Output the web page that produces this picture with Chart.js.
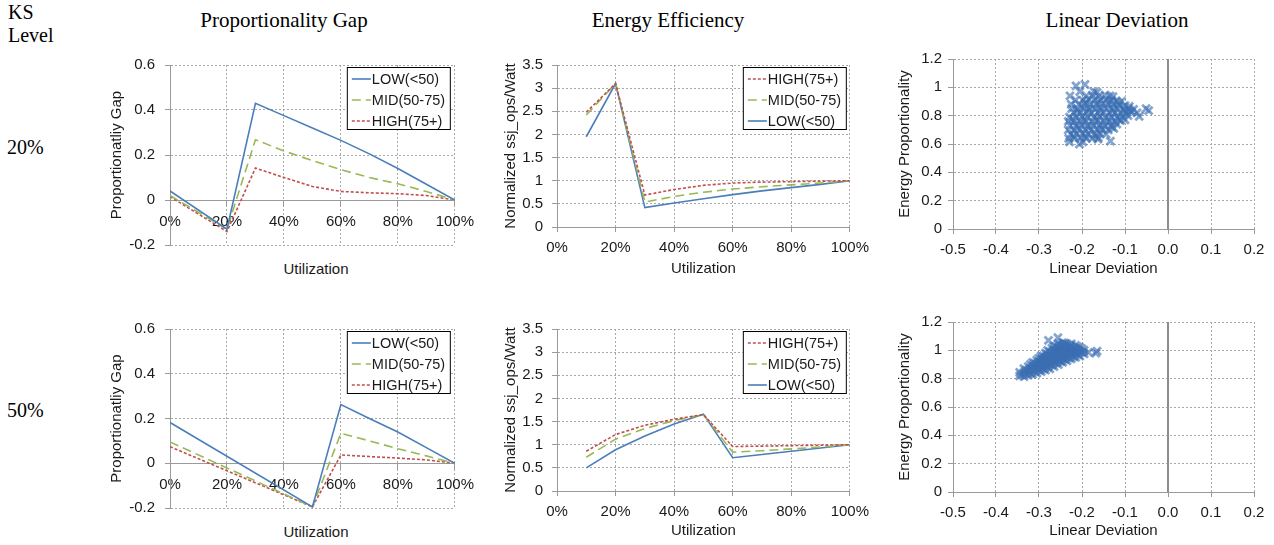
<!DOCTYPE html>
<html>
<head>
<meta charset="utf-8">
<script src="https://cdn.jsdelivr.net/npm/chart.js@4.4.0/dist/chart.umd.min.js"></script>
<style>
  html, body { margin: 0; padding: 0; background: #fff; }
  body { position: relative; width: 1274px; height: 545px; overflow: hidden; }
  canvas { position: absolute; }
  .lbl { position: absolute; font-family: "Liberation Serif", "Times New Roman", serif; font-size: 20px; line-height: 23px; color: #000; white-space: nowrap; }
  .head { text-align: center; width: 300px; font-size: 21px; }
  .axt { position: absolute; font-family: "Liberation Sans", Arial, sans-serif; font-size: 15px; line-height: 16px; color: #1a1a1a; text-align: center; width: 200px; }
</style>
</head>
<body>
<div class="lbl" style="left:8px; top:1px;">KS<br>Level</div>
<div class="lbl" style="left:7px; top:136px;">20%</div>
<div class="lbl" style="left:7px; top:399px;">50%</div>
<div class="lbl head" style="left:134px; top:9px;">Proportionality Gap</div>
<div class="lbl head" style="left:518px; top:9px;">Energy Efficiency</div>
<div class="lbl head" style="left:967px; top:9px;">Linear Deviation</div>
<div class="axt" style="left:216px; top:261px;">Utilization</div>
<div class="axt" style="left:216px; top:524px;">Utilization</div>

<canvas id="pg20"></canvas>
<canvas id="ee20"></canvas>
<canvas id="ld20"></canvas>
<canvas id="pg50"></canvas>
<canvas id="ee50"></canvas>
<canvas id="ld50"></canvas>

<script>
// ---- data ----
const pgUtil20 = [0, 20, 30, 40, 50, 60, 70, 80, 90, 100];
const pgLow20  = [0.04, -0.13, 0.43, 0.375, 0.32, 0.265, 0.205, 0.14, 0.07, 0];
const pgMid20  = [0.02, -0.13, 0.268, 0.218, 0.175, 0.135, 0.10, 0.072, 0.038, 0];
const pgHigh20 = [0.015, -0.14, 0.142, 0.10, 0.06, 0.038, 0.032, 0.028, 0.02, 0];

const pgUtil50 = [0, 50, 60, 70, 80, 90, 100];
const pgLow50  = [0.182, -0.195, 0.262, 0.20, 0.14, 0.07, 0];
const pgMid50  = [0.095, -0.195, 0.134, 0.10, 0.065, 0.033, 0];
const pgHigh50 = [0.074, -0.195, 0.037, 0.03, 0.023, 0.015, 0];

const eeUtil = [10, 20, 30, 40, 50, 60, 70, 80, 90, 100];
const eeHigh20 = [2.48, 3.1, 0.69, 0.81, 0.9, 0.95, 0.97, 0.98, 0.99, 1.0];
const eeMid20  = [2.42, 3.1, 0.54, 0.66, 0.75, 0.82, 0.87, 0.91, 0.95, 1.0];
const eeLow20  = [1.95, 3.1, 0.42, 0.52, 0.61, 0.7, 0.78, 0.85, 0.92, 1.0];

const eeHigh50 = [0.86, 1.22, 1.42, 1.55, 1.65, 0.96, 0.97, 0.98, 0.99, 1.0];
const eeMid50  = [0.73, 1.12, 1.35, 1.52, 1.65, 0.84, 0.87, 0.91, 0.95, 1.0];
const eeLow50  = [0.5, 0.89, 1.19, 1.45, 1.66, 0.72, 0.79, 0.86, 0.93, 1.0];

// linear deviation vs energy proportionality, one [x, y] per server
const ld20pts = [
  [-0.214,1.01],[-0.193,1.02],
  [-0.205,0.97],[-0.172,0.97],[-0.165,0.965],
  [-0.228,0.94],[-0.19,0.94],[-0.176,0.945],[-0.16,0.94],[-0.146,0.945],[-0.135,0.94],[-0.128,0.935],
  [-0.215,0.91],[-0.198,0.91],[-0.184,0.915],[-0.171,0.91],[-0.157,0.91],[-0.144,0.915],[-0.131,0.91],[-0.12,0.905],[-0.108,0.9],
  [-0.225,0.88],[-0.207,0.88],[-0.193,0.885],[-0.18,0.88],[-0.166,0.88],[-0.152,0.885],[-0.139,0.88],[-0.126,0.88],[-0.113,0.875],[-0.1,0.87],[-0.09,0.865],
  [-0.224,0.85],[-0.211,0.85],[-0.197,0.855],[-0.183,0.85],[-0.17,0.85],[-0.157,0.855],[-0.143,0.85],[-0.13,0.85],[-0.117,0.85],[-0.104,0.845],[-0.092,0.85],[-0.08,0.845],[-0.051,0.85],[-0.045,0.835],
  [-0.219,0.82],[-0.204,0.82],[-0.19,0.825],[-0.177,0.82],[-0.163,0.82],[-0.149,0.825],[-0.136,0.82],[-0.123,0.82],[-0.11,0.82],[-0.097,0.82],[-0.085,0.825],[-0.072,0.82],
  [-0.229,0.79],[-0.214,0.79],[-0.2,0.795],[-0.186,0.79],[-0.172,0.79],[-0.158,0.795],[-0.145,0.79],[-0.131,0.79],[-0.118,0.79],[-0.105,0.79],[-0.093,0.8],[-0.067,0.795],
  [-0.232,0.76],[-0.218,0.76],[-0.205,0.765],[-0.191,0.76],[-0.177,0.76],[-0.163,0.765],[-0.15,0.76],[-0.136,0.76],[-0.123,0.76],[-0.11,0.765],[-0.1,0.77],
  [-0.228,0.73],[-0.214,0.73],[-0.2,0.735],[-0.187,0.73],[-0.173,0.73],[-0.159,0.735],[-0.146,0.73],[-0.133,0.73],[-0.119,0.74],
  [-0.232,0.7],[-0.219,0.7],[-0.205,0.705],[-0.192,0.7],[-0.178,0.7],[-0.165,0.705],[-0.152,0.7],[-0.139,0.7],[-0.126,0.71],
  [-0.226,0.67],[-0.212,0.67],[-0.198,0.675],[-0.185,0.67],[-0.171,0.67],[-0.158,0.675],[-0.144,0.67],
  [-0.231,0.64],[-0.217,0.64],[-0.203,0.645],[-0.19,0.64],[-0.176,0.64],[-0.162,0.645],
  [-0.229,0.615],[-0.206,0.6],[-0.198,0.615],[-0.134,0.62],[-0.163,0.635],
  [-0.19,0.895],[-0.163,0.895],[-0.137,0.895],[-0.115,0.89],
  [-0.21,0.835],[-0.185,0.835],[-0.158,0.835],[-0.128,0.835],[-0.1,0.835],[-0.088,0.835],
  [-0.222,0.775],[-0.195,0.775],[-0.167,0.775],[-0.14,0.775],[-0.114,0.775],
  [-0.21,0.715],[-0.183,0.715],[-0.156,0.715],[-0.13,0.72],
  [-0.22,0.655],[-0.193,0.655],[-0.168,0.655]
];

const ld50pts = [
  [-0.345,0.82],[-0.345,0.845],
  [-0.335,0.815],[-0.335,0.845],[-0.335,0.87],
  [-0.325,0.825],[-0.325,0.855],[-0.325,0.885],
  [-0.315,0.83],[-0.315,0.86],[-0.315,0.89],[-0.315,0.915],
  [-0.305,0.84],[-0.305,0.87],[-0.305,0.9],[-0.305,0.93],
  [-0.295,0.85],[-0.295,0.88],[-0.295,0.91],[-0.295,0.94],[-0.295,0.96],
  [-0.285,0.86],[-0.285,0.89],[-0.285,0.92],[-0.285,0.95],[-0.285,0.98],
  [-0.275,0.87],[-0.275,0.9],[-0.275,0.93],[-0.275,0.96],[-0.275,0.99],[-0.278,1.07],
  [-0.265,0.885],[-0.265,0.915],[-0.265,0.945],[-0.265,0.975],[-0.265,1.005],[-0.265,1.03],
  [-0.255,0.9],[-0.255,0.93],[-0.255,0.96],[-0.255,0.99],[-0.255,1.02],[-0.255,1.045],[-0.256,1.09],
  [-0.245,0.915],[-0.245,0.945],[-0.245,0.975],[-0.245,1.005],[-0.245,1.035],[-0.245,1.055],
  [-0.235,0.925],[-0.235,0.955],[-0.235,0.985],[-0.235,1.015],[-0.235,1.045],
  [-0.225,0.94],[-0.225,0.97],[-0.225,1.0],[-0.225,1.03],[-0.225,1.045],
  [-0.215,0.95],[-0.215,0.98],[-0.215,1.01],[-0.215,1.035],
  [-0.205,0.96],[-0.205,0.99],[-0.205,1.02],
  [-0.195,0.975],[-0.195,1.0],
  [-0.185,0.985],[-0.165,0.995],[-0.168,0.98],
  [-0.34,0.83],
  [-0.33,0.835],[-0.33,0.86],
  [-0.32,0.84],[-0.32,0.87],[-0.32,0.9],
  [-0.31,0.85],[-0.31,0.88],[-0.31,0.91],
  [-0.3,0.86],[-0.3,0.89],[-0.3,0.92],[-0.3,0.945],
  [-0.29,0.87],[-0.29,0.9],[-0.29,0.93],[-0.29,0.96],
  [-0.28,0.88],[-0.28,0.91],[-0.28,0.94],[-0.28,0.97],[-0.28,1.0],
  [-0.27,0.895],[-0.27,0.925],[-0.27,0.955],[-0.27,0.985],[-0.27,1.015],
  [-0.26,0.91],[-0.26,0.94],[-0.26,0.97],[-0.26,1.0],[-0.26,1.03],
  [-0.25,0.92],[-0.25,0.95],[-0.25,0.98],[-0.25,1.01],[-0.25,1.04],
  [-0.24,0.935],[-0.24,0.965],[-0.24,0.995],[-0.24,1.025],[-0.24,1.05],
  [-0.23,0.945],[-0.23,0.975],[-0.23,1.005],[-0.23,1.035],
  [-0.22,0.955],[-0.22,0.985],[-0.22,1.015],
  [-0.21,0.97],[-0.21,1.0],[-0.21,1.025],
  [-0.2,0.985],[-0.2,1.01]
];

// ---- styles ----
const LOW  = { label: 'LOW(<50)',   borderColor: '#4a7ebb', borderDash: [] };
const MID  = { label: 'MID(50-75)', borderColor: '#98b954', borderDash: [9, 5] };
const HIGH = { label: 'HIGH(75+)',  borderColor: '#c0504d', borderDash: [3, 2] };

Chart.defaults.font.family = '"Liberation Sans", Arial, sans-serif';
Chart.defaults.font.size = 15;
Chart.defaults.color = '#1a1a1a';

const GRID = '#a8a8a8';
const AXIS = '#9a9a9a';

function line(style, xs, ys) {
  return {
    label: style.label,
    data: xs.map((x, i) => ({ x: x, y: ys[i] })),
    borderColor: style.borderColor,
    borderDash: style.borderDash,
    borderWidth: 1.6,
    pointRadius: 0,
    tension: 0,
    fill: false
  };
}

// boxed legend drawn inside the plot, top right
function boxLegend(rightInset, topInset) {
  return {
    id: 'boxLegend',
    afterDatasetsDraw(chart) {
      const { ctx, chartArea } = chart;
      const w = 104, h = 63;
      const x = chartArea.right - rightInset - w;
      const y = chartArea.top + topInset;
      ctx.save();
      ctx.fillStyle = '#fff';
      ctx.fillRect(x, y, w, h);
      ctx.strokeStyle = '#000';
      ctx.lineWidth = 1;
      ctx.strokeRect(x + 0.5, y + 0.5, w - 1, h - 1);
      chart.data.datasets.forEach((ds, i) => {
        const cy = y + 12 + i * 21;
        ctx.strokeStyle = ds.borderColor;
        ctx.lineWidth = ds.borderWidth;
        ctx.setLineDash(ds.borderDash || []);
        ctx.beginPath();
        ctx.moveTo(x + 5, cy);
        ctx.lineTo(x + 24, cy);
        ctx.stroke();
        ctx.setLineDash([]);
        ctx.fillStyle = '#1a1a1a';
        ctx.font = '14.5px "Liberation Sans", Arial, sans-serif';
        ctx.textBaseline = 'middle';
        ctx.fillText(ds.label, x + 25, cy + 1);
      });
      ctx.restore();
    }
  };
}

const zeroLine = {
  id: 'zeroLine',
  beforeDatasetsDraw(chart) {
    const { ctx, chartArea } = chart;
    const x = chart.scales.x.getPixelForValue(0);
    ctx.save();
    ctx.strokeStyle = '#8c8c8c';
    ctx.lineWidth = 2;
    ctx.beginPath();
    ctx.moveTo(x, chartArea.top);
    ctx.lineTo(x, chartArea.bottom);
    ctx.stroke();
    ctx.restore();
  }
};

// place a canvas so that its plot area lands at l/r/t/b
function place(id, g) {
  const c = document.getElementById(id);
  c.style.left = (g.l - g.yw) + 'px';
  c.style.top = (g.t - 12) + 'px';
  c.width = g.r - g.l + g.yw + 20;
  c.height = g.b - g.t + 12 + g.xh;
  return c;
}

const fmt1 = v => String(Number(v.toFixed(1)));
const pct = v => v + '%';

function yScale(min, max, step, title, pad, yw) {
  return {
    min: min, max: max,
    ticks: { stepSize: step, padding: pad, callback: fmt1 },
    grid: { color: GRID, tickLength: 5, tickColor: AXIS },
    border: { display: true, color: AXIS, dash: [2, 2] },
    title: { display: true, text: title, padding: 0 },
    afterFit: s => { s.width = yw; }
  };
}

function pgChart(id, g, xs, low, mid, high) {
  const c = place(id, g);
  return new Chart(c, {
    type: 'line',
    data: { datasets: [line(LOW, xs, low), line(MID, xs, mid), line(HIGH, xs, high)] },
    options: {
      responsive: false, animation: false,
      layout: { padding: { left: 0, top: 12, right: 20, bottom: g.xh } },
      scales: {
        x: {
          type: 'linear', position: { y: 0 }, min: 0, max: 100,
          ticks: { stepSize: 20, padding: 8, callback: pct },
          grid: { color: GRID, tickLength: 5, tickColor: AXIS },
          border: { display: true, color: AXIS, dash: [2, 2] }
        },
        y: yScale(-0.2, 0.6, 0.2, 'Proportionatliy Gap', 10, g.yw)
      },
      plugins: { legend: { display: false }, tooltip: { enabled: false } }
    },
    plugins: [boxLegend(4, 2)]
  });
}

function eeChart(id, g, high, mid, low) {
  const c = place(id, g);
  return new Chart(c, {
    type: 'line',
    data: { datasets: [line(HIGH, eeUtil, high), line(MID, eeUtil, mid), line(LOW, eeUtil, low)] },
    options: {
      responsive: false, animation: false,
      layout: { padding: { left: 0, top: 12, right: 20, bottom: 0 } },
      scales: {
        x: {
          type: 'linear', min: 0, max: 100,
          ticks: { stepSize: 20, padding: 7, callback: pct },
          grid: { color: GRID, tickLength: 5, tickColor: AXIS },
          border: { display: true, color: AXIS, dash: [2, 2] },
          title: { display: true, text: 'Utilization', padding: 0 },
          afterFit: s => { s.height = g.xh; }
        },
        y: yScale(0, 3.5, 0.5, 'Normalized ssj_ops/Watt', 9, g.yw)
      },
      plugins: { legend: { display: false }, tooltip: { enabled: false } }
    },
    plugins: [boxLegend(3, 2)]
  });
}

function ldChart(id, g, pts) {
  const c = place(id, g);
  return new Chart(c, {
    type: 'scatter',
    data: {
      datasets: [{
        data: pts.map(p => ({ x: p[0], y: p[1] })),
        pointStyle: 'crossRot',
        pointRadius: 5.5,
        borderWidth: 2.8,
        borderColor: 'rgba(58,110,178,0.62)',
        backgroundColor: 'rgba(58,110,178,0.62)'
      }]
    },
    options: {
      responsive: false, animation: false,
      layout: { padding: { left: 0, top: 12, right: 20, bottom: 0 } },
      scales: {
        x: {
          type: 'linear', min: -0.5, max: 0.2,
          ticks: { stepSize: 0.1, padding: 7, callback: v => (Math.abs(v) < 1e-9 ? 0 : v).toFixed(1) },
          grid: { color: GRID, tickLength: 5, tickColor: AXIS },
          border: { display: true, color: AXIS, dash: [2, 2] },
          title: { display: true, text: 'Linear Deviation', padding: 0 },
          afterFit: s => { s.height = g.xh; }
        },
        y: yScale(0, 1.2, 0.2, 'Energy Proportionality', 6, g.yw)
      },
      plugins: { legend: { display: false }, tooltip: { enabled: false } }
    },
    plugins: [zeroLine]
  });
}

pgChart('pg20', { l: 170, r: 462, t: 58, b: 252, yw: 62, xh: 12 }, pgUtil20, pgLow20, pgMid20, pgHigh20);
eeChart('ee20', { l: 557, r: 856, t: 59, b: 227, yw: 55, xh: 51 }, eeHigh20, eeMid20, eeLow20);
ldChart('ld20', { l: 953, r: 1254, t: 56, b: 229, yw: 57, xh: 49 }, ld20pts);

pgChart('pg50', { l: 170, r: 462, t: 322, b: 515, yw: 62, xh: 12 }, pgUtil50, pgLow50, pgMid50, pgHigh50);
eeChart('ee50', { l: 557, r: 856, t: 323, b: 491, yw: 55, xh: 49 }, eeHigh50, eeMid50, eeLow50);
ldChart('ld50', { l: 953, r: 1254, t: 319, b: 492, yw: 57, xh: 48 }, ld50pts);
</script>
</body>
</html>
